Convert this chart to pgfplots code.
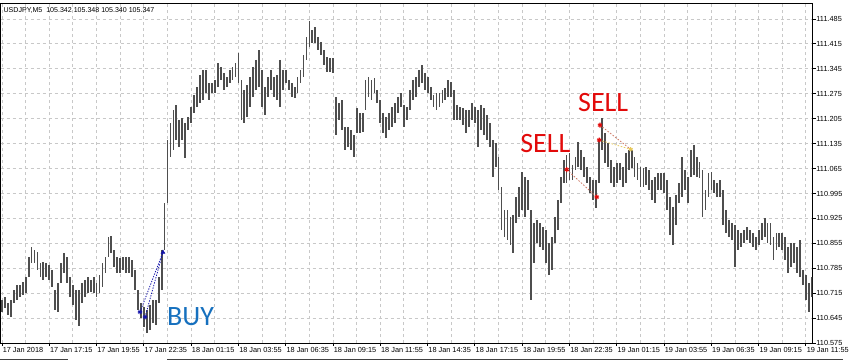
\documentclass[border=0pt]{standalone}
\usepackage{pgfplots}
\pgfplotsset{compat=1.18}
\usepackage{pgfplotstable}
\usepackage{fontspec}
\setmainfont{Liberation Sans}
\newfontfamily\carlito{Carlito}
\definecolor{barcol}{RGB}{78,78,78}
\definecolor{gridcol}{RGB}{200,200,200}
\definecolor{sellred}{RGB}{226,10,10}
\definecolor{buyblue}{RGB}{22,112,190}
\definecolor{tradeblue}{RGB}{20,20,170}
\definecolor{tradesalmon}{RGB}{205,120,100}
\definecolor{tradeyellow}{RGB}{230,200,90}

% M5 bars, x = bar index from 17 Jan 14:35, high / low (every second bar)
\pgfplotstableread{
x hi lo
0 110.695 110.662
2 110.704 110.673
4 110.687 110.653
6 110.695 110.648
8 110.723 110.687
10 110.737 110.695
12 110.737 110.704
14 110.746 110.709
16 110.760 110.715
18 110.816 110.760
20 110.844 110.799
22 110.836 110.799
24 110.830 110.780
26 110.799 110.760
28 110.802 110.752
30 110.799 110.760
32 110.794 110.752
34 110.780 110.732
36 110.723 110.667
38 110.743 110.662
40 110.799 110.743
42 110.827 110.771
44 110.816 110.743
46 110.760 110.704
48 110.737 110.681
50 110.723 110.639
52 110.723 110.622
54 110.743 110.687
56 110.752 110.704
58 110.760 110.715
60 110.752 110.718
62 110.760 110.715
64 110.743 110.704
66 110.766 110.715
68 110.799 110.732
70 110.816 110.771
72 110.872 110.816
74 110.875 110.827
76 110.836 110.788
78 110.816 110.771
80 110.813 110.771
82 110.816 110.780
84 110.816 110.771
86 110.816 110.771
88 110.808 110.760
90 110.780 110.723
92 110.723 110.667
94 110.687 110.645
96 110.676 110.620
98 110.667 110.603
100 110.681 110.611
102 110.695 110.631
104 110.695 110.625
106 110.760 110.687
108 110.836 110.723
110 110.968 110.836
112 111.145 110.968
114 111.192 111.097
116 111.229 111.117
118 111.243 111.145
120 111.201 111.125
122 111.207 111.145
124 111.192 111.094
126 111.209 111.173
128 111.237 111.192
130 111.271 111.221
132 111.294 111.237
134 111.327 111.249
136 111.341 111.257
138 111.341 111.277
140 111.305 111.257
142 111.305 111.277
144 111.313 111.277
146 111.361 111.294
148 111.350 111.313
150 111.333 111.285
152 111.322 111.294
154 111.341 111.305
156 111.350 111.313
158 111.361 111.322
160 111.389 111.305
162 111.313 111.201
164 111.285 111.192
166 111.299 111.209
168 111.322 111.237
170 111.350 111.266
172 111.370 111.285
174 111.398 111.294
176 111.341 111.237
178 111.294 111.215
180 111.322 111.266
182 111.341 111.285
184 111.322 111.266
186 111.327 111.257
188 111.370 111.237
190 111.341 111.285
192 111.341 111.305
194 111.313 111.285
196 111.305 111.266
198 111.294 111.263
200 111.322 111.277
202 111.341 111.305
204 111.384 111.322
206 111.434 111.370
208 111.479 111.406
210 111.454 111.417
212 111.462 111.417
214 111.434 111.398
216 111.420 111.384
218 111.398 111.355
220 111.378 111.336
222 111.375 111.336
224 111.375 111.333
226 111.266 111.159
228 111.249 111.201
230 111.257 111.173
232 111.181 111.117
234 111.181 111.125
236 111.173 111.117
238 111.159 111.097
240 111.235 111.164
242 111.221 111.164
244 111.221 111.167
246 111.313 111.229
248 111.322 111.266
250 111.313 111.257
252 111.319 111.277
254 111.285 111.249
256 111.257 111.192
258 111.221 111.164
260 111.209 111.150
262 111.221 111.173
264 111.237 111.181
266 111.249 111.192
268 111.266 111.221
270 111.277 111.237
272 111.243 111.181
274 111.237 111.201
276 111.285 111.229
278 111.313 111.257
280 111.322 111.266
282 111.341 111.294
284 111.355 111.305
286 111.333 111.285
288 111.322 111.277
290 111.294 111.257
292 111.271 111.237
294 111.277 111.229
296 111.277 111.237
298 111.285 111.249
300 111.291 111.257
302 111.313 111.266
304 111.308 111.266
306 111.285 111.201
308 111.243 111.201
310 111.237 111.201
312 111.235 111.187
314 111.229 111.164
316 111.229 111.181
318 111.249 111.201
320 111.237 111.192
322 111.229 111.125
324 111.243 111.173
326 111.235 111.159
328 111.215 111.145
330 111.192 111.125
332 111.145 111.041
334 111.136 111.069
336 111.097 111.004
338 111.013 110.892
340 110.948 110.872
342 110.948 110.864
344 110.928 110.850
346 110.934 110.827
348 110.985 110.912
350 111.013 110.928
352 111.055 110.948
354 111.041 110.928
356 111.032 110.948
358 110.948 110.695
360 110.912 110.799
362 110.920 110.855
364 110.912 110.844
366 110.900 110.836
368 110.892 110.799
370 110.855 110.766
372 110.872 110.780
374 110.928 110.855
376 110.976 110.892
378 111.041 110.968
380 111.089 111.024
382 111.103 111.024
384 111.108 111.032
386 111.075 111.032
388 111.097 111.060
390 111.139 111.069
392 111.117 111.060
394 111.097 111.041
396 111.069 111.024
398 111.041 110.996
400 111.032 110.976
402 111.032 110.954
404 111.145 111.024
406 111.207 111.117
408 111.164 111.080
410 111.136 111.069
412 111.089 111.024
414 111.069 111.013
416 111.080 111.024
418 111.080 111.032
420 111.069 111.013
422 111.108 111.024
424 111.117 111.060
426 111.117 111.066
428 111.097 111.041
430 111.080 111.032
432 111.069 111.013
434 111.066 111.013
436 111.069 111.018
438 111.060 111.004
440 111.032 110.976
442 111.041 110.968
444 111.052 111.004
446 111.052 111.004
448 111.052 110.996
450 111.032 110.948
452 110.985 110.878
454 110.957 110.850
456 110.990 110.906
458 111.024 110.968
460 111.097 110.985
462 111.060 111.004
464 111.041 110.968
466 111.117 111.041
468 111.131 111.046
470 111.097 111.041
472 111.083 111.038
474 111.060 110.928
476 111.004 110.948
478 111.052 110.985
480 111.055 111.004
482 111.032 110.996
484 111.024 110.985
486 111.032 110.985
488 111.004 110.906
490 110.948 110.883
492 110.920 110.872
494 110.912 110.864
496 110.906 110.788
498 110.892 110.836
500 110.883 110.844
502 110.892 110.855
504 110.900 110.864
506 110.892 110.855
508 110.883 110.844
510 110.872 110.836
512 110.892 110.850
514 110.912 110.864
516 110.926 110.872
518 110.912 110.855
520 110.912 110.850
522 110.872 110.808
524 110.883 110.836
526 110.883 110.844
528 110.883 110.836
530 110.872 110.808
532 110.844 110.771
534 110.855 110.788
536 110.855 110.799
538 110.844 110.771
540 110.864 110.760
542 110.780 110.737
544 110.766 110.695
546 110.743 110.662
548 110.760 110.704
}\bars

\begin{document}
\begin{tikzpicture}
\begin{axis}[
  at={(0.375pt,14.25pt)}, anchor=south west,
  scale only axis, width=609pt, height=255pt,
  xmin=-1.015, xmax=548.4, ymin=110.575, ymax=111.530,
  axis line style={black, line width=0.75pt},
  xtick={0,32,...,544},
  xticklabels={17 Jan 2018,17 Jan 17:15,17 Jan 19:55,17 Jan 22:35,18 Jan 01:15,18 Jan 03:55,18 Jan 06:35,18 Jan 09:15,18 Jan 11:55,18 Jan 14:35,18 Jan 17:15,18 Jan 19:55,18 Jan 22:35,19 Jan 01:15,19 Jan 03:55,19 Jan 06:35,19 Jan 09:15,19 Jan 11:55},
  minor xtick={16,48,...,528},
  ytick={110.575,110.645,110.715,110.785,110.855,110.925,110.995,111.065,111.135,111.205,111.275,111.345,111.415,111.485},
  yticklabels={110.575,110.645,110.715,110.785,110.855,110.925,110.995,111.065,111.135,111.205,111.275,111.345,111.415,111.485},
  ytick pos=right, xtick pos=bottom,
  tick align=outside, major tick length=2.25pt, minor tick length=0pt,
  tick style={black, line width=0.75pt},
  grid=both,
  major grid style={gridcol, line width=0.75pt, dash pattern=on 2.25pt off 2.25pt},
  minor grid style={gridcol, line width=0.75pt, dash pattern=on 2.25pt off 2.25pt},
  xticklabel style={anchor=north west, inner sep=0pt, font=\fontsize{5.5}{6}\selectfont, xshift=0.4pt, yshift=-0.6pt},
  yticklabel style={anchor=west, inner sep=0pt, font=\fontsize{5.5}{6}\selectfont, xshift=0.5pt},
  /pgf/number format/assume math mode=true,
]
\addplot[draw=none, mark=none,
  error bars/.cd, y dir=minus, y explicit, error mark=none,
  error bar style={draw=barcol, line width=1.35pt, solid}]
  table[x=x, y=hi, y error minus expr=\thisrow{hi}-\thisrow{lo}] {\bars};

% BUY trade
\addplot[tradeblue, line width=0.6pt, dash pattern=on 1pt off 1pt, mark=none] coordinates {(93.4,110.662) (108.9,110.830)};
\addplot[tradeblue, line width=0.6pt, dash pattern=on 1pt off 1pt, mark=none] coordinates {(96.8,110.648) (108.9,110.830)};
\addplot[only marks, mark=asterisk, mark size=1.8pt, tradeblue, line width=0.8pt] coordinates {(93.4,110.662) (96.8,110.648)};
\addplot[only marks, mark=triangle*, mark size=1.6pt, tradeblue] coordinates {(108.9,110.830)};

% SELL trades
\addplot[tradesalmon, line width=0.6pt, dash pattern=on 1.2pt off 1.2pt, mark=none] coordinates {(382.1,111.062) (402.4,110.985)};
\addplot[tradesalmon, line width=0.6pt, dash pattern=on 1.2pt off 1.2pt, mark=none] coordinates {(404.6,111.187) (425.4,111.119)};
\addplot[tradeyellow, line width=0.6pt, dash pattern=on 1.2pt off 1.2pt, mark=none] coordinates {(404.1,111.145) (425.4,111.119)};
\addplot[only marks, mark=asterisk, mark size=1.8pt, sellred, line width=0.8pt] coordinates {(382.1,111.062) (402.4,110.985) (404.6,111.187) (404.1,111.145)};
\addplot[only marks, mark=asterisk, mark size=1.6pt, tradeyellow, line width=0.8pt] coordinates {(425.4,111.119)};

\node[anchor=base west, inner sep=0pt, text=buyblue, font=\carlito\fontsize{21}{24}\selectfont] at (axis cs:111.6,110.625) {BUY};
\node[anchor=base west, inner sep=0pt, text=sellred, font=\carlito\fontsize{21}{24}\selectfont] at (axis cs:389.7,111.226) {SELL};
\node[anchor=base west, inner sep=0pt, text=sellred, font=\carlito\fontsize{21}{24}\selectfont] at (axis cs:350.5,111.111) {SELL};
\end{axis}
\node[anchor=base west, inner sep=0pt, font=\fontsize{5.3}{6}\selectfont] at (2.5pt,262.5pt) {USDJPY,M5\ \ 105.342 105.348 105.340 105.347};
\draw[line width=0.75pt, black!75] (0pt,1.9pt) -- (51pt,1.9pt);
\draw[line width=0.75pt, black!75] (125.25pt,1.9pt) -- (632.25pt,1.9pt);
\pgfresetboundingbox
\path[use as bounding box] (0pt,0pt) rectangle (638.25pt,271.5pt);
\end{tikzpicture}
\end{document}
